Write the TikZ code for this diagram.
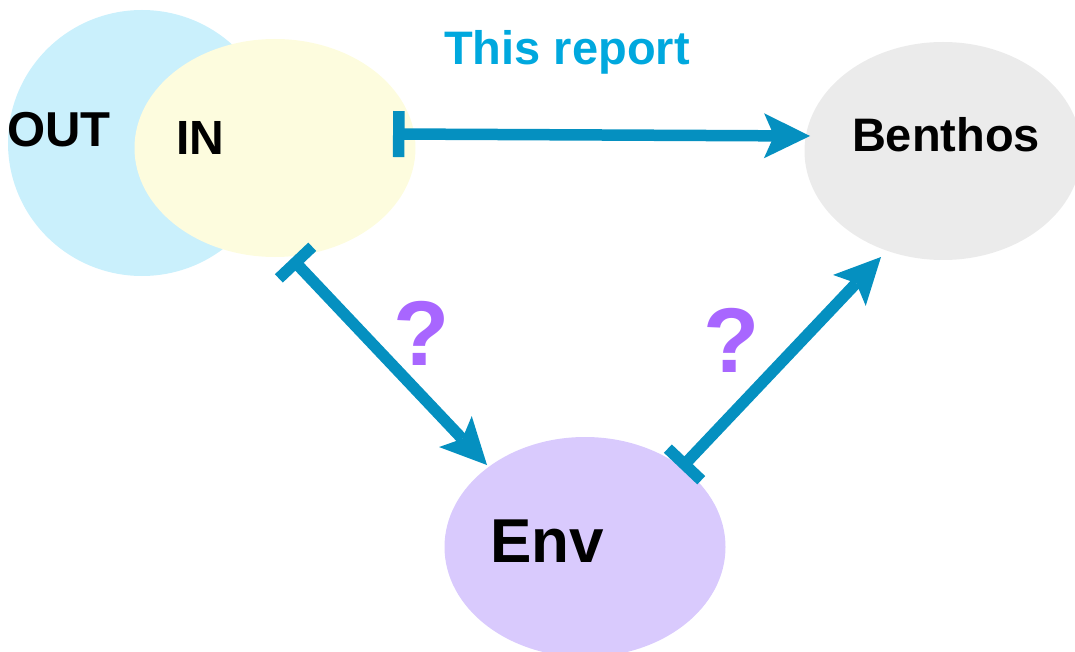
\documentclass[tikz,border=0pt]{standalone}
\usepackage{fontspec}
\setmainfont{Liberation Sans}
\usetikzlibrary{shapes.geometric,arrows.meta}

\definecolor{outBlue}{RGB}{202,240,252}
\definecolor{inYellow}{RGB}{253,252,222}
\definecolor{benthosGray}{RGB}{235,235,235}
\definecolor{envPurple}{RGB}{217,202,253}
\definecolor{linkBlue}{RGB}{5,144,192}
\definecolor{reportBlue}{RGB}{0,168,222}
\definecolor{askPurple}{RGB}{168,102,255}

\begin{document}
\begin{tikzpicture}[x=1pt,y=-1pt,
        zone/.style={
            ellipse, inner sep=0pt, draw=none
        },
        tag/.style={
            anchor=base, inner sep=0pt, text=black, font=\bfseries\fontsize{48}{58}\selectfont
        },
        link/.style={
            draw=linkBlue, line width=11.5pt,
            {Bar[width=46pt]}-{Stealth[length=46pt,width=45pt,inset=10pt,line width=0pt]}
        },
    ]
        \useasboundingbox (0,0) rectangle (1075,652);
        \clip (0,0) rectangle (1075,652);

        \node (out) [zone,fill=outBlue,minimum width=268pt,minimum height=266pt] at (142,143) {};
        \node (in) [zone,fill=inYellow,minimum width=281pt,minimum height=218pt] at (275,148) {};
        \node (benthos) [zone,fill=benthosGray,minimum width=277pt,minimum height=218pt] at (943,151) {};
        \node (env) [zone,fill=envPurple,minimum width=281pt,minimum height=220pt] at (585,547) {};

        \node (outText) [tag,font=\bfseries\fontsize{49}{58}\selectfont] at (59,147) {OUT};
        \node (inText) [tag] at (200,155) {IN};
        \node (benthosText) [tag,font=\bfseries\fontsize{47}{56}\selectfont] at (946,152) {Benthos};
        \node (envText) [tag,font=\bfseries\fontsize{62}{74}\selectfont] at (547,562) {Env};
        \node (report) [tag,text=reportBlue,font=\bfseries\fontsize{47}{56}\selectfont] at (567,65) {This report};

        % arrow ends
        \coordinate (inOut) at (393,134);
        \coordinate (benthosIn) at (810,136);
        \coordinate (inDown) at (291.6,258.4);
        \coordinate (envIn) at (487,465);
        \coordinate (envOut) at (680.6,468.6);
        \coordinate (benthosUp) at (881,257);

        \path (inOut) edge[link] (benthosIn);
        \path (inDown) edge[link] (envIn);
        \path (envOut) edge[link] (benthosUp);

        \node (askLeft) [tag,text=askPurple,font=\bfseries\fontsize{92}{110}\selectfont] at (422,365) {?};
        \node (askRight) [tag,text=askPurple,font=\bfseries\fontsize{92}{110}\selectfont] at (732,372) {?};

    \end{tikzpicture}
\end{document}
